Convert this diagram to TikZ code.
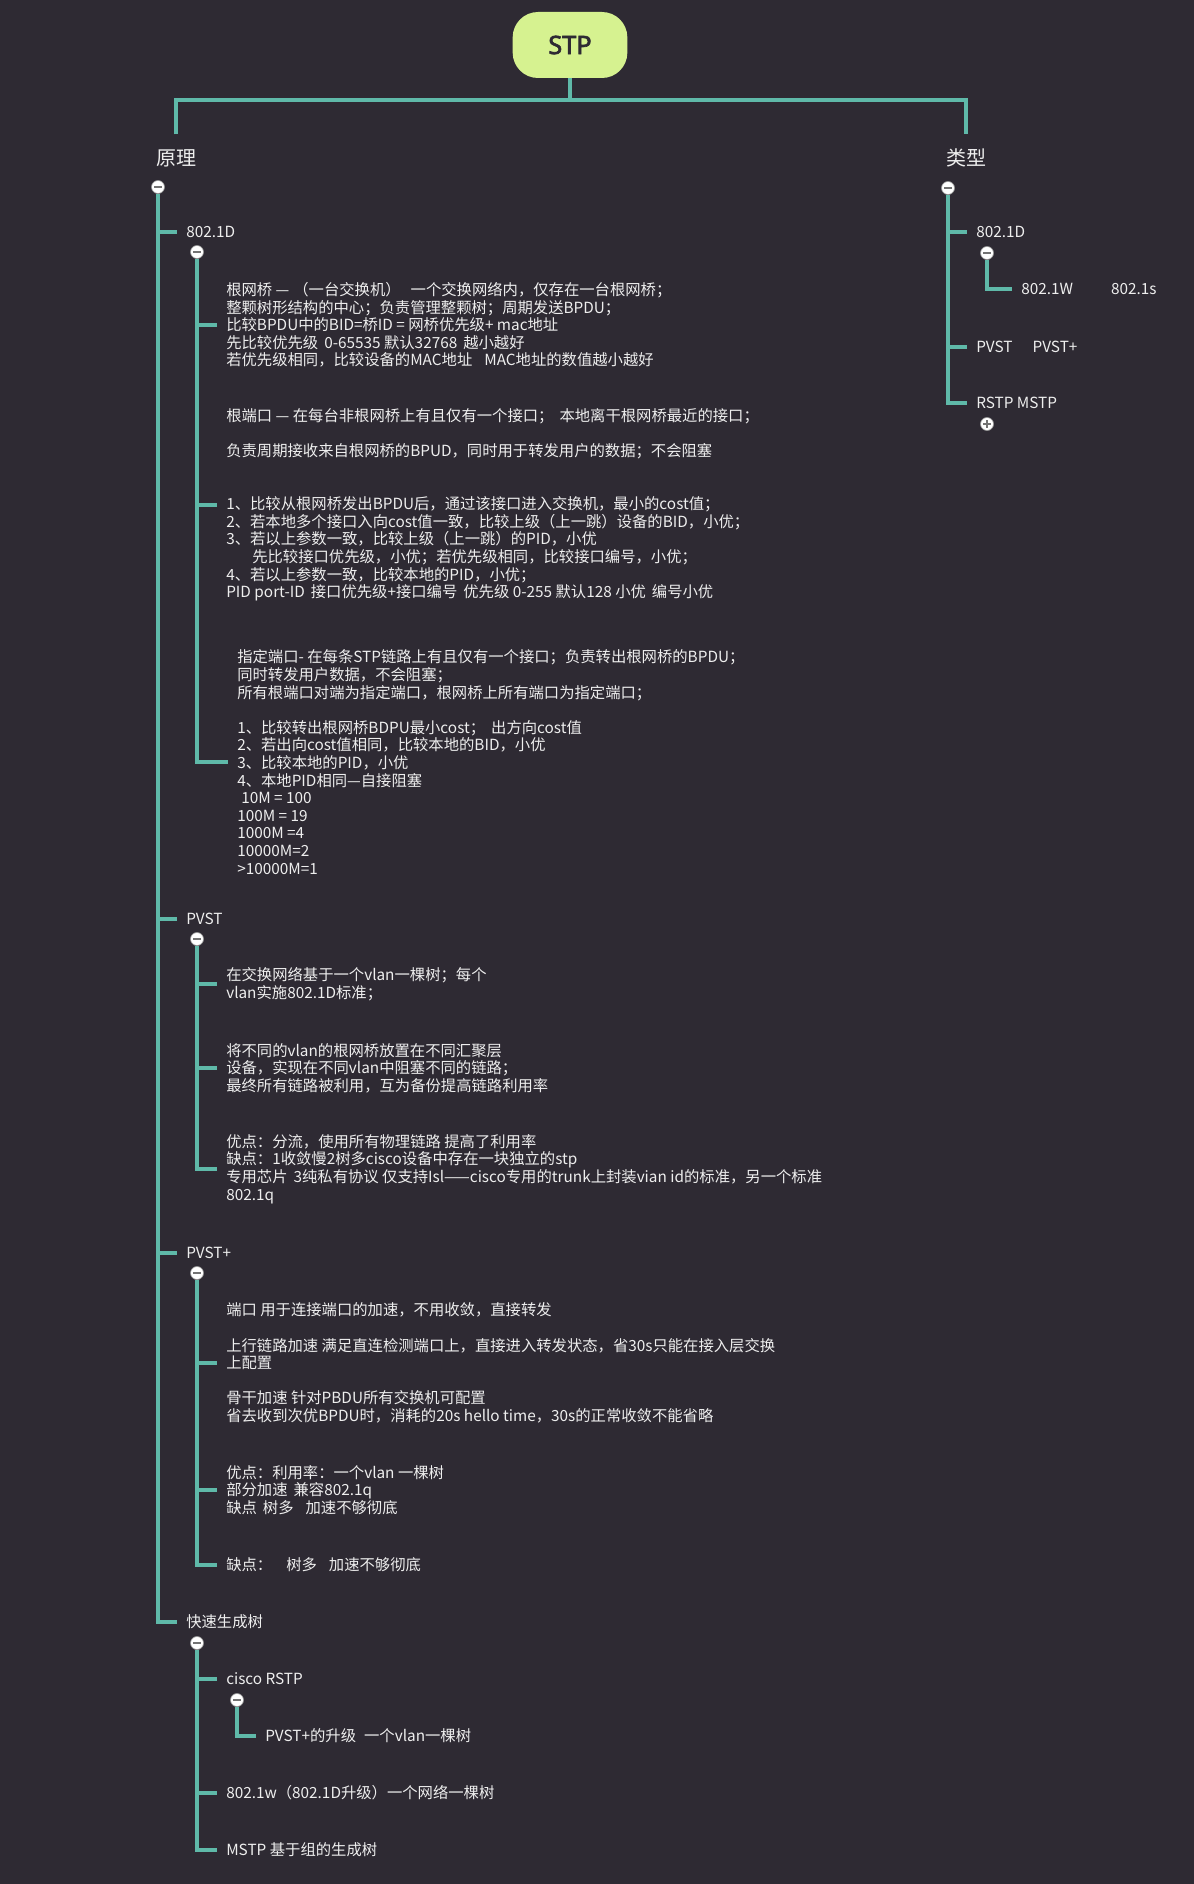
\documentclass[tikz,border=0pt]{standalone}
\usepackage{fontspec}
\setmainfont{Noto Sans CJK SC}
\newfontfamily\stpfont{Noto Sans}[AutoFakeBold=2.5]
\newdimen\pxu
\pxu=0.75pt
\definecolor{bgc}{HTML}{2E2A33}
\definecolor{barc}{HTML}{5FB9A9}
\definecolor{rootc}{HTML}{D6F290}
\definecolor{txtc}{HTML}{EEEEEE}
\tikzset{troot/.style={
  fill=rootc,
  rounded corners=19pt,
  minimum width=86pt,
  minimum height=49.5pt,
  text=bgc,
  font=\stpfont\bfseries\fontsize{19}{22}\selectfont}}
\tikzset{ttop/.style={
  text=txtc,
  inner xsep=0pt,
  inner ysep=11pt,
  font=\fontsize{15}{18}\selectfont}}
\tikzset{tleaf/.style={
  anchor=west,
  align=left,
  text=txtc,
  inner xsep=6.75pt,
  inner ysep=0pt,
  font=\fontsize{11.5}{13.2}\selectfont}}
\tikzset{tbar/.style={
  barc,
  line width=2.6pt}}
\tikzset{tfold/.style={
  circle,
  fill=white,
  draw=black!40,
  line width=0.5pt,
  minimum size=9.75pt,
  inner sep=0pt,
  path picture={\draw[black!55,line width=1.3pt]
    ([xshift=-2.7pt]path picture bounding box.center) --
    ([xshift=2.7pt]path picture bounding box.center);}}}
\tikzset{tunfold/.style={
  circle,
  fill=white,
  draw=black!40,
  line width=0.5pt,
  minimum size=9.75pt,
  inner sep=0pt,
  path picture={\draw[black!55,line width=1.3pt]
    ([xshift=-2.7pt]path picture bounding box.center) --
    ([xshift=2.7pt]path picture bounding box.center)
    ([yshift=-2.7pt]path picture bounding box.center) --
    ([yshift=2.7pt]path picture bounding box.center);}}}
\begin{document}
\begin{tikzpicture}[x=0.75pt,y=-0.75pt]

  %%%% Background and size %%%%
  \fill[bgc] (0,0) rectangle (1194,1884);
  \useasboundingbox (0,0) rectangle (1194,1884);

  %% Root and the two main topics
  \node[troot] (stp) at (570,45) {STP};
  \coordinate (bar) at (570,100);
  \node[ttop] (yl) at (176,158) {原理};
  \node[ttop] (lx) at (966,158) {类型};
  \draw[tbar] (stp.south) -- (bar);
  \draw[tbar] (yl.north) |- (bar) -| (lx.north);

  %% Fold buttons
  \node[tfold] (f-yl) at (158,187) {};
  \node[tfold] (f-lx) at (948,188) {};
  \node[tfold] (f-d) at (197,252) {};
  \node[tfold] (f-pvst) at (197,939) {};
  \node[tfold] (f-pvstp) at (197,1273) {};
  \node[tfold] (f-rst) at (197,1643) {};
  \node[tfold] (f-cisco) at (237,1700) {};
  \node[tfold] (f-rd) at (987,253) {};
  \node[tunfold] (u-rm) at (987,424) {};

  %%%% Left side: 原理 %%%%
  \node[tleaf] (d) at (177,232) {802.1D};
  \node[tleaf] (pvst) at (177,919) {PVST};
  \node[tleaf] (pvstp) at (177,1253) {PVST+};
  \node[tleaf] (rst) at (177,1622) {快速生成树};
  \foreach \n in {d,pvst,pvstp,rst}
    \draw[tbar] (f-yl.south) |- (\n.west);

  %% 802.1D
  \node[tleaf] (d-1) at (217,325) {根网桥 —\hspace{4\pxu}（一台交换机）\hspace{10\pxu}一个交换网络内，仅存在一台根网桥；\\
    整颗树形结构的中心；负责管理整颗树；周期发送BPDU；\\
    比较BPDU中的BID=桥ID = 网桥优先级+ mac地址\\
    先比较优先级\hspace{6\pxu}0-65535 默认32768\hspace{6\pxu}越小越好\\
    若优先级相同，比较设备的MAC地址\hspace{12\pxu}MAC地址的数值越小越好};
  \node[tleaf] (d-2) at (217,505) {根端口 — 在每台非根网桥上有且仅有一个接口；\hspace{6\pxu}本地离干根网桥最近的接口；\\
    \mbox{}\\
    负责周期接收来自根网桥的BPUD，同时用于转发用户的数据；不会阻塞\\
    \mbox{}\\
    \mbox{}\\
    1、比较从根网桥发出BPDU后，通过该接口进入交换机，最小的cost值；\\
    2、若本地多个接口入向cost值一致，比较上级（上一跳）设备的BID，小优；\\
    3、若以上参数一致，比较上级（上一跳）的PID，小优\\
    \hspace{26\pxu}先比较接口优先级，小优；若优先级相同，比较接口编号，小优；\\
    4、若以上参数一致，比较本地的PID，小优；\\
    PID port-ID\hspace{6\pxu}接口优先级+接口编号\hspace{6\pxu}优先级 0-255 默认128 小优\hspace{6\pxu}编号小优};
  \node[tleaf] (d-3) at (228,762) {指定端口- 在每条STP链路上有且仅有一个接口；负责转出根网桥的BPDU；\\
    同时转发用户数据，不会阻塞；\\
    所有根端口对端为指定端口，根网桥上所有端口为指定端口；\\
    \mbox{}\\
    1、比较转出根网桥BDPU最小cost；\hspace{6\pxu}出方向cost值\\
    2、若出向cost值相同，比较本地的BID，小优\\
    3、比较本地的PID，小优\\
    4、本地PID相同—自接阻塞\\
    \hspace{4\pxu}10M = 100\\
    100M = 19\\
    1000M =4\\
    10000M=2\\
    >10000M=1};
  \foreach \n in {d-1,d-2,d-3}
    \draw[tbar] (f-d.south) |- (\n.west);

  %% PVST
  \node[tleaf] (pvst-1) at (217,984) {在交换网络基于一个vlan一棵树；每个\\
    vlan实施802.1D标准；};
  \node[tleaf] (pvst-2) at (217,1068) {将不同的vlan的根网桥放置在不同汇聚层\\
    设备，实现在不同vlan中阻塞不同的链路；\\
    最终所有链路被利用，互为备份提高链路利用率};
  \node[tleaf] (pvst-3) at (217,1169) {优点：分流，使用所有物理链路 提高了利用率\\
    缺点：1收敛慢2树多cisco设备中存在一块独立的stp\\
    专用芯片\hspace{6\pxu}3纯私有协议 仅支持Isl——cisco专用的trunk上封装vian id的标准，另一个标准\\
    802.1q};
  \foreach \n in {pvst-1,pvst-2,pvst-3}
    \draw[tbar] (f-pvst.south) |- (\n.west);

  %% PVST+
  \node[tleaf] (pvstp-1) at (217,1363) {端口 用于连接端口的加速，不用收敛，直接转发\\
    \mbox{}\\
    上行链路加速 满足直连检测端口上，直接进入转发状态，省30s只能在接入层交换\\
    上配置\\
    \mbox{}\\
    骨干加速 针对PBDU所有交换机可配置\\
    省去收到次优BPDU时，消耗的20s hello time，30s的正常收敛不能省略};
  \node[tleaf] (pvstp-2) at (217,1490) {优点：利用率：一个vlan 一棵树\\
    部分加速\hspace{6\pxu}兼容802.1q\\
    缺点\hspace{6\pxu}树多\hspace{12\pxu}加速不够彻底};
  \node[tleaf] (pvstp-3) at (217,1565) {缺点：\hspace{14\pxu}树多\hspace{12\pxu}加速不够彻底};
  \foreach \n in {pvstp-1,pvstp-2,pvstp-3}
    \draw[tbar] (f-pvstp.south) |- (\n.west);

  %% 快速生成树
  \node[tleaf] (rst-1) at (217,1679) {cisco RSTP};
  \node[tleaf] (rst-2) at (217,1793) {802.1w（802.1D升级）一个网络一棵树};
  \node[tleaf] (rst-3) at (217,1850) {MSTP 基于组的生成树};
  \node[tleaf] (cisco-1) at (256,1736) {PVST+的升级\hspace{8\pxu}一个vlan一棵树};
  \foreach \n in {rst-1,rst-2,rst-3}
    \draw[tbar] (f-rst.south) |- (\n.west);
  \draw[tbar] (f-cisco.south) |- (cisco-1.west);

  %%%% Right side: 类型 %%%%
  \node[tleaf] (rd) at (967,232) {802.1D};
  \node[tleaf] (rpvst) at (967,347) {PVST\hspace{20\pxu}PVST+};
  \node[tleaf] (rrm) at (967,403) {RSTP MSTP};
  \node[tleaf] (rd-1) at (1012,289) {802.1W\hspace{38\pxu}802.1s};
  \foreach \n in {rd,rpvst,rrm}
    \draw[tbar] (f-lx.south) |- (\n.west);
  \draw[tbar] (f-rd.south) |- (rd-1.west);

\end{tikzpicture}
\end{document}
